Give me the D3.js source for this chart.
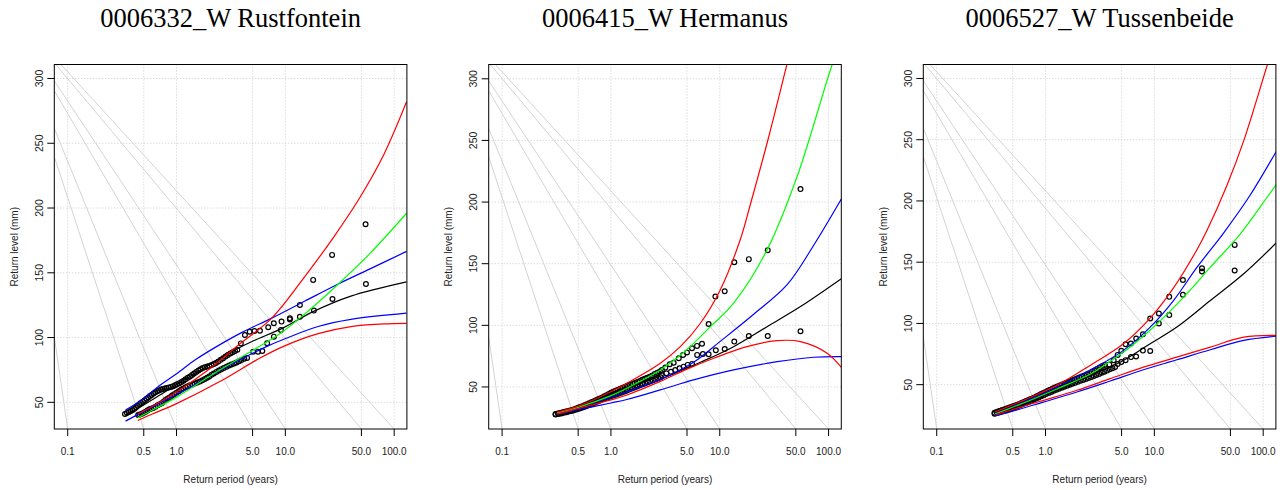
<!DOCTYPE html>
<html>
<head>
<meta charset="utf-8">
<script src="https://cdn.jsdelivr.net/npm/d3@7"></script>
<style>
body { margin: 0; background: #fff; }
text { font-family: "Liberation Sans", Arial, sans-serif; fill: #222; }
.title { font-family: "Liberation Serif", "Times New Roman", serif; fill: #000; }
</style>
</head>
<body>
<script>

var width = 1280,
	height = 490;

var panelLeft = [54.3, 488.7, 923.3],
	plotTop = 64.5,
	plotW = 352.6,
	plotH = 364.5;

var titles = ['0006332_W Rustfontein', '0006415_W Hermanus', '0006527_W Tussenbeide'];
var periodTicks = [0.1, 0.5, 1, 5, 10, 50, 100];
var periodLabels = ['0.1', '0.5', '1.0', '5.0', '10.0', '50.0', '100.0'];
var levelTicks = [50, 100, 150, 200, 250, 300];
var periodRange = [0.0753, 130.9];
var levelRanges = [[29.4, 310.8], [15.9, 311.6], [13.8, 311.4]];

// grey lines: period where they hit the bottom, share of the height where they leave the left side
var guidePeriods = [0.1, 0.5, 1, 5, 10, 50, 100];
var guideStart = [0.253, 0.747, 0.825, 0.928, 0.955, 1.005, 1.02];

// ---- Rustfontein
var redUp1 = [[0.44,41],[0.6,47],[1,58],[1.5,68],[2.33,80],[3.8,95],[7.5,115],[15.7,149],[27.5,177],[46.7,206],[80,241],[130,282]];
var green1 = [[0.44,38],[0.6,44],[1,54],[2,70],[3,79],[5,90],[8.9,103],[13.6,115],[29.5,140],[60,165],[130,196]];
var blueUp1 = [[0.34,44],[0.5,53],[0.7,63],[1,72],[1.5,83],[2.33,93],[4,104],[7.5,115],[15,128],[30,141],[60,153],[130,166.5]];
var black1 = [[0.34,40],[0.5,48],[1,63.5],[2,79],[3.56,91],[5.1,97.5],[9.55,107.5],[18,120],[40,132],[130,143]];
var blueLo1 = [[0.34,35.5],[0.5,43],[1,56],[2,70],[3.3,80],[6.7,93],[9.55,98.5],[20,108.5],[40,114],[130,118.8]];
var redLo1 = [[0.44,36],[0.6,41],[1,49],[2.5,66],[5.8,84],[9.5,93],[20,103],[40,108.5],[80,110.5],[130,111]];

var obsA1 = [[0.336,41],[0.35,41.8],[0.365,42.5],[0.38,43.2],[0.395,44],[0.41,45],[0.425,46.2],[0.44,47.4],[0.455,48.5],[0.47,49.4],
	[0.49,50.4],[0.51,51.6],[0.53,52.8],[0.55,53.8],[0.57,54.8],[0.59,55.6],[0.615,56.8],[0.64,57.8],[0.665,58.6],[0.69,59.2],
	[0.72,59.8],[0.75,60.2],[0.78,60.6],[0.81,61],[0.85,61.4],[0.89,61.9],[0.93,62.4],[0.97,63.2],[1.01,64],[1.06,64.8],
	[1.11,65.6],[1.16,66.6],[1.21,67.8],[1.27,69],[1.33,70],[1.39,71],[1.45,72.2],[1.52,73.4],[1.59,74.5],[1.66,75.5],
	[1.74,76.5],[1.82,77.1],[1.91,77.6],[2,78.1],[2.1,78.8],[2.2,79.6],[2.3,80.4],[2.42,81.6],[2.55,82.8],[2.68,84],
	[2.82,85.3],[2.96,86.5],[3.12,87.6],[3.28,88.6],[3.45,89.6],[3.62,90.6],[3.9,95.5],[4.25,102],[4.7,104.5],[5.2,105],
	[5.84,105.3],[6.96,107.9],[7.83,111],[9.22,112.3],[11,114.9],[13.6,125.2],[18,144.5],[26.9,163.8],[54.6,187.5]];
var obsB1 = [[0.444,40.2],[0.46,40.6],[0.48,41.2],[0.5,42],[0.52,42.8],[0.54,43.6],[0.56,44.4],[0.58,45],[0.61,45.6],[0.64,46.6],
	[0.67,47.8],[0.7,48.6],[0.73,49.3],[0.76,50.5],[0.79,51.8],[0.83,53],[0.87,54],[0.91,55.2],[0.95,56.3],[1,57.4],
	[1.05,58.5],[1.1,59.7],[1.15,60.7],[1.21,61.6],[1.27,62.4],[1.33,63.2],[1.4,63.8],[1.47,64.5],[1.55,65.3],[1.64,66],
	[1.73,67],[1.82,68],[1.91,69],[2,70],[2.1,71.2],[2.2,72.3],[2.32,73.4],[2.45,74.6],[2.58,75.6],[2.72,76.5],
	[2.88,77.4],[3.04,78.4],[3.2,79.2],[3.38,80],[3.56,80.8],[3.75,81.7],[3.95,82.6],[4.2,83.6],[4.45,84.3],[5.06,89.1],
	[5.61,89.1],[6.14,89.6],[6.8,95.6],[7.85,100.7],[9.1,105.9],[11,114],[13.6,116.1],[18.3,120.8],[27.1,129.8],[55,141.4]];

// ---- Hermanus
var redUp2 = [[0.32,29.5],[0.5,34.5],[0.69,39.4],[1.4,53],[2.84,69.2],[4.34,82.7],[6.64,101.7],[10.1,128.7],[15.5,170],[19.1,198],[28.2,253],[41,310],[50,340]];
var green2 = [[0.32,29],[0.5,33.5],[1,43],[1.4,49],[2.84,63.8],[4.66,78],[8.2,98.9],[13.4,118],[27.2,161.2],[51.4,220.7],[108,311.6],[130,330]];
var blueUp2 = [[0.32,29],[0.5,33.5],[1,41.5],[1.4,46],[2.84,56],[5.75,70],[10.1,87],[20.5,109],[41.6,133],[73,165],[133,203.5]];
var black2 = [[0.32,28.5],[0.5,33],[1,40.5],[1.4,45],[2.84,56],[6.64,70],[13.4,82.7],[27.2,98.9],[55.2,115.2],[133,138.2]];
var blueLo2 = [[0.32,28],[0.5,31.5],[1,37],[1.4,39.8],[2.84,47.6],[5.75,55.7],[13.4,63.8],[33.7,70.5],[73,74.1],[133,74.6]];
var redLo2 = [[0.32,28],[0.5,32.5],[1,39.5],[1.4,43.5],[2.84,54.5],[5,64.5],[8.8,73.3],[17.8,82.7],[33.7,87.6],[55.2,86.8],[97,77.4],[133,65.2]];

var obsA2 = [[0.31,28],[0.325,28.4],[0.34,28.8],[0.355,29.2],[0.37,29.6],[0.385,30],[0.4,30.4],[0.42,30.9],[0.44,31.4],[0.46,31.9],
	[0.48,32.5],[0.5,33.1],[0.52,33.7],[0.545,34.4],[0.57,35.1],[0.6,35.9],[0.63,36.7],[0.66,37.5],[0.69,38.3],[0.72,39],
	[0.755,39.8],[0.79,40.6],[0.83,41.5],[0.87,42.4],[0.91,43.3],[0.955,44.3],[1,45.3],[1.05,46.2],[1.1,47],[1.16,47.8],
	[1.22,48.6],[1.28,49.4],[1.35,50.2],[1.42,51],[1.5,51.8],[1.58,52.5],[1.66,53.2],[1.75,54],[1.84,54.9],[1.94,55.8],
	[2.04,56.7],[2.15,57.5],[2.27,58.3],[2.4,59.4],[2.53,60.6],[2.67,61.6],[2.82,62.6],[2.94,63.8],[3.16,65.7],[3.47,68.4],
	[3.77,69.7],[4.2,73.3],[4.6,76],[5,77.9],[5.56,81.4],[6.18,83.3],[6.87,85],[7.9,101.1],[9.12,123.3],[11.1,127.7],
	[13.6,151.2],[18.5,153.7],[27.6,161],[55.2,210.5]];
var obsB2 = [[0.31,27.6],[0.33,28],[0.35,28.5],[0.37,29],[0.39,29.5],[0.41,30],[0.43,30.5],[0.45,31],[0.47,31.5],[0.49,32],
	[0.515,32.6],[0.54,33.2],[0.565,33.8],[0.59,34.4],[0.62,35.1],[0.65,35.8],[0.68,36.5],[0.71,37.2],[0.745,38],[0.78,38.8],
	[0.82,39.6],[0.86,40.4],[0.9,41.2],[0.945,42],[0.99,42.8],[1.04,43.6],[1.09,44.4],[1.15,45.2],[1.21,46],[1.27,46.8],
	[1.34,47.5],[1.41,48.2],[1.49,48.9],[1.57,49.6],[1.66,50.3],[1.75,51],[1.85,51.7],[1.95,52.4],[2.06,53.1],[2.18,53.8],
	[2.3,54.6],[2.43,55.4],[2.57,56.2],[2.72,57],[2.87,57.9],[2.93,59.7],[3.23,61.1],[3.56,62.4],[3.9,63.8],[4.27,65.2],
	[4.66,66.5],[5.07,67.9],[5.56,68.7],[6.2,76],[7,76.8],[7.9,76.5],[9.2,79.8],[11.1,80.8],[13.6,86.8],[18.5,91.4],
	[27.6,91.4],[55.2,95.2]];

// ---- Tussenbeide
var redUp3 = [[0.343,27.7],[0.627,37.2],[1.27,49.4],[2.57,65.7],[5.2,83.4],[9.16,104.3],[15,129],[24.7,160.4],[30.5,176],[46.6,213],[66.2,249],[110,312],[130,332]];
var green3 = [[0.343,26],[0.627,35],[1.27,46.5],[2.57,58.5],[3.66,67.1],[6,80.7],[10.6,99.7],[18.6,121.4],[32.7,145.9],[61.7,173.1],[108.6,203],[133,213.9]];
var blueUp3 = [[0.343,26.4],[0.627,35.8],[1.27,48.1],[2.57,61.8],[5.2,78],[9.16,97],[15,118.7],[24.7,145.9],[43.4,174],[75,204],[133,241]];
var black3 = [[0.343,26],[0.627,34.5],[1.27,45.4],[2.57,57.6],[5.2,69.8],[9.16,83.4],[16.1,97],[32.7,118.7],[66.2,140.5],[134,166.3]];
var blueLo3 = [[0.343,24.5],[0.472,27.7],[0.957,35.8],[1.94,44],[3.93,53],[7.95,62.2],[16.1,70.3],[32.7,78.5],[66.2,86.1],[134,89.6]];
var redLo3 = [[0.35,25.5],[0.472,29.1],[0.957,37.2],[1.94,45.4],[3.93,54.9],[7.95,64.3],[16.1,72.5],[32.7,80.7],[66.2,88.8],[134,90.2]];

var obsA3 = [[0.34,27],[0.355,27.6],[0.37,28.2],[0.385,28.8],[0.4,29.3],[0.42,29.9],[0.44,30.5],[0.46,31.1],[0.48,31.7],[0.5,32.3],
	[0.525,33],[0.55,33.7],[0.575,34.3],[0.6,35],[0.63,35.8],[0.66,36.6],[0.69,37.3],[0.72,38],[0.755,38.8],[0.79,39.6],
	[0.83,40.5],[0.87,41.4],[0.91,42.3],[0.955,43.2],[1,44.1],[1.05,45],[1.1,45.9],[1.16,46.8],[1.22,47.7],[1.28,48.6],
	[1.35,49.4],[1.42,50.2],[1.5,51],[1.58,51.8],[1.66,52.6],[1.75,53.4],[1.84,54.2],[1.94,55],[2.04,55.8],[2.15,56.6],
	[2.27,57.4],[2.4,58.4],[2.53,59.4],[2.67,60.5],[2.82,61.6],[2.98,62.8],[3.15,64],[3.33,65.2],[3.5,66],[3.86,66.5],
	[4.23,70],[4.6,74.3],[4.97,77.6],[5.44,83],[6.09,83.6],[6.81,87.7],[7.85,91.2],[9.16,104],[11,108.1],[13.7,121.7],
	[18.3,135.4],[27.4,145.1],[54.7,164.1]];
var obsB3 = [[0.34,26.2],[0.36,26.8],[0.38,27.4],[0.4,28],[0.42,28.6],[0.44,29.2],[0.465,29.9],[0.49,30.6],[0.515,31.3],[0.54,32],
	[0.57,32.8],[0.6,33.6],[0.63,34.4],[0.665,35.2],[0.7,36],[0.74,36.9],[0.78,37.8],[0.82,38.7],[0.865,39.6],[0.91,40.5],
	[0.96,41.4],[1.01,42.3],[1.07,43.2],[1.13,44.1],[1.19,45],[1.26,45.9],[1.33,46.7],[1.41,47.5],[1.49,48.3],[1.58,49.1],
	[1.67,49.9],[1.77,50.7],[1.87,51.5],[1.98,52.3],[2.1,53.1],[2.22,53.9],[2.35,54.7],[2.49,55.5],[2.63,56.3],[2.78,57.1],
	[2.94,57.9],[3.11,58.8],[3.29,59.7],[3.48,60.6],[3.68,61.5],[3.89,62.5],[4.12,63.5],[4.36,64.5],[4.6,66.8],[4.97,68.5],
	[5.44,70],[6.1,72.5],[6.8,73],[7.85,77.8],[9.16,77.5],[11,99.9],[13.7,106.8],[18.3,123.4],[27.4,142.4],[54.7,143.2]];


var panels = [
	{curves: [black1, blueUp1, blueLo1, green1, redUp1, redLo1], obs: [obsA1, obsB1]},
	{curves: [black2, blueUp2, blueLo2, green2, redUp2, redLo2], obs: [obsA2, obsB2]},
	{curves: [black3, blueUp3, blueLo3, green3, redUp3, redLo3], obs: [obsA3, obsB3]}
];
var curveColors = ['#000000', '#0000ff', '#0000ff', '#00ff00', '#ff0000', '#ff0000'];

var svg = d3.select('body').append('svg')
			.attr('width', width)
			.attr('height', height);

var x = d3.scaleLog()
			.domain(periodRange)
			.range([0, plotW]);

var share = d3.scaleLinear()
			.domain([0, 1])
			.range([plotH, 0]);


panels.forEach(function(p, i){

	var y = d3.scaleLinear()
				.domain(levelRanges[i])
				.range([plotH, 0]);

	var g = svg.append('g')
		.attr('transform', 'translate(' + panelLeft[i] + ',' + plotTop + ')');

	g.append('clipPath').attr('id', 'clip' + i)
		.append('rect').attr('width', plotW).attr('height', plotH);

	var inner = g.append('g').attr('clip-path', 'url(#clip' + i + ')');

	// dotted grid
	inner.selectAll('.gx').data(periodTicks)
		.enter().append('line').classed('gx', true)
		.attr('x1', function(d){return x(d)}).attr('x2', function(d){return x(d)})
		.attr('y1', 0).attr('y2', plotH)
		.attr('stroke', '#cccccc').attr('stroke-dasharray', '1,2');

	inner.selectAll('.gy').data(levelTicks)
		.enter().append('line').classed('gy', true)
		.attr('x1', 0).attr('x2', plotW)
		.attr('y1', function(d){return y(d)}).attr('y2', function(d){return y(d)})
		.attr('stroke', '#cccccc').attr('stroke-dasharray', '1,2');

	// grey guide lines
	inner.selectAll('.guide').data(guidePeriods)
		.enter().append('line').classed('guide', true)
		.attr('x1', 0)
		.attr('y1', function(d, j){return share(guideStart[j])})
		.attr('x2', function(d){return x(d)})
		.attr('y2', plotH)
		.attr('stroke', '#d3d3d3').attr('stroke-width', 1);

	// observations
	p.obs.forEach(function(set){
		inner.append('g').selectAll('circle').data(set)
			.enter().append('circle')
			.attr('cx', function(d){return x(d[0])})
			.attr('cy', function(d){return y(d[1])})
			.attr('r', 2.4)
			.attr('fill', 'none')
			.attr('stroke', '#000')
			.attr('stroke-width', 1.2);
	});

	var line = d3.line()
		.x(function(d){return x(d[0])})
		.y(function(d){return y(d[1])})
		.curve(d3.curveCatmullRom.alpha(0.5));

	inner.selectAll('.fit').data(p.curves)
		.enter().append('path').classed('fit', true)
		.attr('d', line)
		.attr('fill', 'none')
		.attr('stroke', function(d, j){return curveColors[j]})
		.attr('stroke-width', 1.2);

	g.append('rect')
		.attr('width', plotW).attr('height', plotH)
		.attr('fill', 'none').attr('stroke', '#000').attr('stroke-width', 1);

	// x axis
	g.selectAll('.tx').data(periodTicks)
		.enter().append('line').classed('tx', true)
		.attr('x1', function(d){return x(d)}).attr('x2', function(d){return x(d)})
		.attr('y1', plotH).attr('y2', plotH + 7)
		.attr('stroke', '#000');

	g.selectAll('.lx').data(periodTicks)
		.enter().append('text').classed('lx', true)
		.attr('x', function(d){return x(d)})
		.attr('y', plotH + 26)
		.attr('text-anchor', 'middle')
		.style('font-size', '10px')
		.text(function(d, j){return periodLabels[j]});

	// y axis
	g.selectAll('.ty').data(levelTicks)
		.enter().append('line').classed('ty', true)
		.attr('x1', -7).attr('x2', 0)
		.attr('y1', function(d){return y(d)}).attr('y2', function(d){return y(d)})
		.attr('stroke', '#000');

	g.selectAll('.ly').data(levelTicks)
		.enter().append('text').classed('ly', true)
		.attr('transform', function(d){return 'translate(-11.5,' + y(d) + ') rotate(-90)'})
		.attr('text-anchor', 'middle')
		.style('font-size', '10.5px')
		.text(function(d){return d});

	g.append('text')
		.attr('transform', 'translate(-36.5,' + (plotH / 2) + ') rotate(-90)')
		.attr('text-anchor', 'middle')
		.style('font-size', '10px')
		.text('Return level (mm)');

	g.append('text')
		.attr('x', plotW / 2)
		.attr('y', plotH + 54)
		.attr('text-anchor', 'middle')
		.style('font-size', '10px')
		.text('Return period (years)');

	g.append('text').classed('title', true)
		.attr('x', plotW / 2)
		.attr('y', 27 - plotTop)
		.attr('text-anchor', 'middle')
		.style('font-size', '26.5px')
		.text(titles[i]);

});

</script>
</body>
</html>
